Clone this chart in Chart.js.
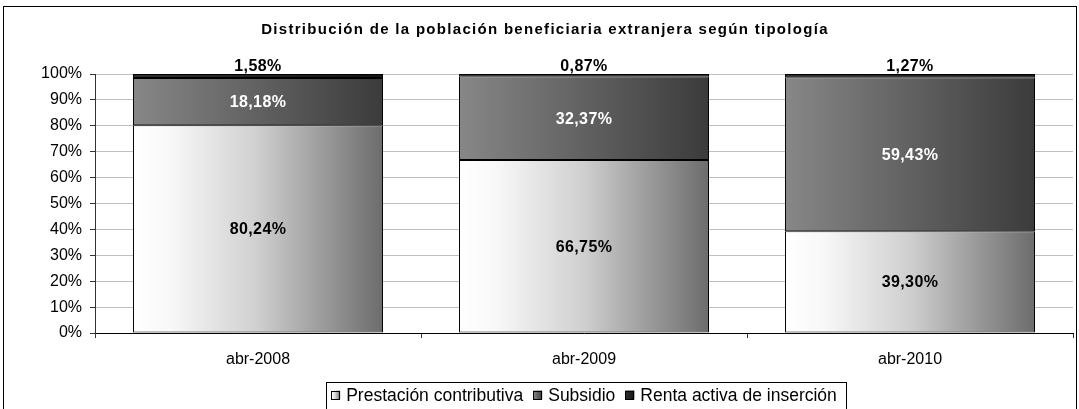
<!DOCTYPE html>
<html>
<head>
<meta charset="utf-8">
<script src="https://cdn.jsdelivr.net/npm/chart.js@4/dist/chart.umd.min.js"></script>
<style>
    html, body { margin: 0; padding: 0; background: #fff; }
    #wrap { width: 1079px; height: 409px; position: relative; }
</style>
</head>
<body>
<div id="wrap"><canvas id="chart"></canvas></div>
<script>
// datos del gráfico
const chartTitle = 'Distribución de la población beneficiaria extranjera según tipología';
const categories = ['abr-2008', 'abr-2009', 'abr-2010'];
const seriesNames = ['Prestación contributiva', 'Subsidio', 'Renta activa de inserción'];
const prestacion = [80.24, 66.75, 39.30];
const subsidio = [18.18, 32.37, 59.43];
const renta = [1.58, 0.87, 1.27];
const yTicks = [0, 10, 20, 30, 40, 50, 60, 70, 80, 90, 100];

// estilos
const FONT = '"Liberation Sans", Arial, sans-serif';
const BAR_PCT = 0.767;
const gradStops = [
    [[0, '#ffffff'], [0.15, '#f8f8f8'], [0.5, '#cfcfcf'], [0.78, '#979797'], [1, '#6c6c6c']],
    [[0, '#878787'], [1, '#3b3b3b']],
    [[0, '#303030'], [1, '#151515']]
];
const labelColors = ['#000', '#fff', '#000'];

function makeGradient(ctx, x0, x1, stops) {
    const g = ctx.createLinearGradient(x0, 0, x1, 0);
    stops.forEach(s => g.addColorStop(s[0], s[1]));
    return g;
}

function barFill(dsIndex) {
    return (c) => {
        const chart = c.chart;
        const xs = chart.scales && chart.scales.x;
        const stops = gradStops[dsIndex];
        if (!xs || c.dataIndex === undefined) return stops[stops.length - 1][1];
        const center = xs.getPixelForValue(c.dataIndex);
        const half = (xs.width / categories.length) * BAR_PCT / 2;
        if (!isFinite(center) || !isFinite(half) || half <= 0) return stops[stops.length - 1][1];
        return makeGradient(chart.ctx, center - half, center + half, stops);
    };
}

const fmt = v => v.toFixed(2).replace('.', ',') + '%';

// etiquetas, título, leyenda y marco
const extrasPlugin = {
    id: 'extras',
    afterDatasetsDraw(chart) {
        const ctx = chart.ctx;
        ctx.save();
        ctx.font = 'bold 16px ' + FONT;
        ctx.letterSpacing = '0.4px';
        ctx.textAlign = 'center';
        chart.data.datasets.forEach((ds, di) => {
            const meta = chart.getDatasetMeta(di);
            meta.data.forEach((el, i) => {
                ctx.fillStyle = labelColors[di];
                if (di === 2) {
                    ctx.textBaseline = 'alphabetic';
                    ctx.fillText(fmt(ds.data[i]), el.x, el.y - 3);
                } else {
                    ctx.textBaseline = 'middle';
                    ctx.fillText(fmt(ds.data[i]), el.x, (el.y + el.base) / 2 + 1);
                }
            });
        });
        ctx.restore();
    },
    afterDraw(chart) {
        const ctx = chart.ctx;
        const area = chart.chartArea;
        ctx.save();
        // título
        ctx.font = 'bold 15px ' + FONT;
        ctx.letterSpacing = '1.3px';
        ctx.fillStyle = '#000';
        ctx.textAlign = 'center';
        ctx.textBaseline = 'middle';
        ctx.fillText(chartTitle, 545, 30);
        ctx.letterSpacing = '0px';

        // leyenda
        ctx.font = '17.5px ' + FONT;
        const box = 9, gap = 6, itemGap = 10;
        const widths = seriesNames.map(n => ctx.measureText(n).width);
        const contentW = widths.reduce((s, w) => s + box + gap + w, 0) + itemGap * (seriesNames.length - 1);
        let x = (area.left + area.right) / 2 - contentW / 2;
        const yMid = 395;
        ctx.strokeStyle = '#000';
        ctx.lineWidth = 1;
        ctx.strokeRect(Math.round(x - 5) + 0.5, 382.5, Math.round(contentW + 14), 40);
        ctx.textAlign = 'left';
        seriesNames.forEach((n, i) => {
            ctx.fillStyle = makeGradient(ctx, x, x + box, gradStops[i]);
            ctx.fillRect(x, yMid - 4.5, box, box);
            ctx.strokeStyle = '#000';
            ctx.strokeRect(Math.round(x) + 0.5, Math.round(yMid - 4.5) + 0.5, box - 1, box - 1);
            ctx.fillStyle = '#000';
            ctx.fillText(n, x + box + gap, yMid + 1);
            x += box + gap + widths[i] + itemGap;
        });

        // marco exterior
        ctx.strokeStyle = '#000';
        ctx.strokeRect(3.5, 6.5, 1073, 430);
        ctx.restore();
    }
};

const datasets = [prestacion, subsidio, renta].map((data, i) => ({
    label: seriesNames[i],
    data: data,
    backgroundColor: barFill(i),
    borderColor: '#000',
    borderWidth: 1,
    borderSkipped: false,
    categoryPercentage: 1,
    barPercentage: BAR_PCT
}));

new Chart(document.getElementById('chart'), {
    type: 'bar',
    data: { labels: categories, datasets: datasets },
    options: {
        responsive: true,
        maintainAspectRatio: false,
        animation: false,
        layout: { padding: { left: 0, right: 6, top: 74, bottom: 36 } },
        plugins: {
            legend: { display: false },
            title: { display: false },
            tooltip: { enabled: false }
        },
        scales: {
            x: {
                stacked: true,
                offset: true,
                border: { color: '#000', width: 1 },
                grid: { display: true, drawOnChartArea: false, offset: true, tickLength: 5, color: '#333' },
                ticks: { color: '#000', font: { family: FONT, size: 16 }, padding: 12 },
                afterFit: s => { s.height = 40; }
            },
            y: {
                stacked: true,
                min: 0,
                max: 100,
                border: { color: '#333', width: 1 },
                grid: { color: '#c0c0c0', borderDash: [8, 7], tickLength: 5, tickColor: '#333', tickBorderDash: [] },
                ticks: {
                    color: '#000',
                    font: { family: FONT, size: 16 },
                    padding: 8,
                    callback: v => v + '%'
                },
                afterBuildTicks: s => { s.ticks = yTicks.map(v => ({ value: v })); },
                afterFit: s => { s.width = 95; }
            }
        }
    },
    plugins: [extrasPlugin]
});
</script>
</body>
</html>
